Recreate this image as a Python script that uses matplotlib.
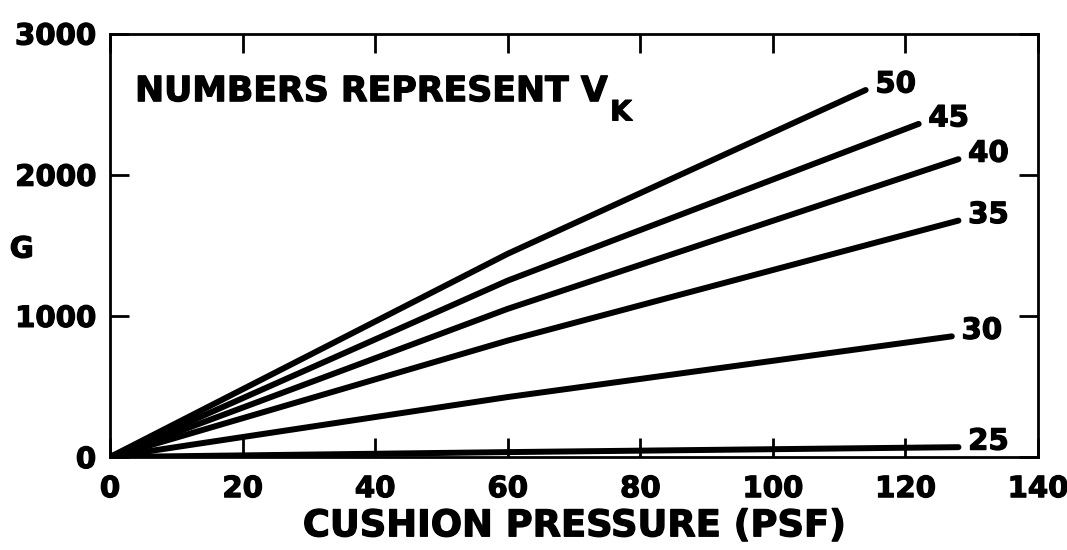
import matplotlib
matplotlib.use("Agg")
import matplotlib.pyplot as plt
import matplotlib.patheffects as pe

plt.rcParams['font.family'] = ['DejaVu Sans']
plt.rcParams['font.weight'] = 'bold'

# Data (G versus cushion pressure, one line per V_K)
v_k_labels = ['50', '45', '40', '35', '30', '25']
pressure_mid = 60
pressure_end = [114, 122, 128, 128, 127, 128]
g_at_mid = [1440, 1250, 1050, 825, 425, 35]
g_at_end = [2600, 2360, 2110, 1675, 855, 70]

x_ticks = [0, 20, 40, 60, 80, 100, 120, 140]
y_ticks = [0, 1000, 2000, 3000]

heavy = [pe.withStroke(linewidth=0.9, foreground='black')]

fig = plt.figure(figsize=(10.67, 5.5), dpi=100)
ax = fig.add_axes([0.1031, 0.169, 0.8697, 0.770])

for lab, xe, gm, ge in zip(v_k_labels, pressure_end, g_at_mid, g_at_end):
    ax.plot([0, pressure_mid, xe], [0, gm, ge], color='black', lw=4.3,
            solid_capstyle='round', solid_joinstyle='round')
    ax.annotate(lab, xy=(xe, ge), xytext=(7, 4), textcoords='offset points',
                ha='left', va='center', fontsize=21, fontweight='bold',
                path_effects=heavy)

ax.set_xlim(0, 140)
ax.set_ylim(0, 3000)
ax.set_xticks(x_ticks)
ax.set_yticks(y_ticks)
ax.set_xticklabels([str(t) for t in x_ticks])
ax.set_yticklabels([str(t) for t in y_ticks])
ax.tick_params(axis='both', direction='in', length=14, width=2,
               labelsize=21, top=True, right=True)
ax.tick_params(axis='x', pad=13)
ax.tick_params(axis='y', pad=10)
for lbl in ax.get_xticklabels() + ax.get_yticklabels():
    lbl.set_fontweight('bold')
    lbl.set_path_effects(heavy)
for sp in ax.spines.values():
    sp.set_linewidth(2)

ax.set_xlabel('CUSHION PRESSURE (PSF)', fontsize=26.5, fontweight='bold',
              labelpad=3, path_effects=heavy)
ax.text(-0.108, 0.49, 'G', transform=ax.transAxes, fontsize=21,
        fontweight='bold', ha='left', va='center', path_effects=heavy)

ax.text(0.027, 0.864, 'NUMBERS REPRESENT V', transform=ax.transAxes,
        fontsize=25, fontweight='bold', ha='left', va='center',
        path_effects=heavy)
ax.text(0.539, 0.795, 'K', transform=ax.transAxes,
        fontsize=20, fontweight='bold', ha='left', va='baseline',
        path_effects=heavy)

fig.savefig('out.png', dpi=100)
